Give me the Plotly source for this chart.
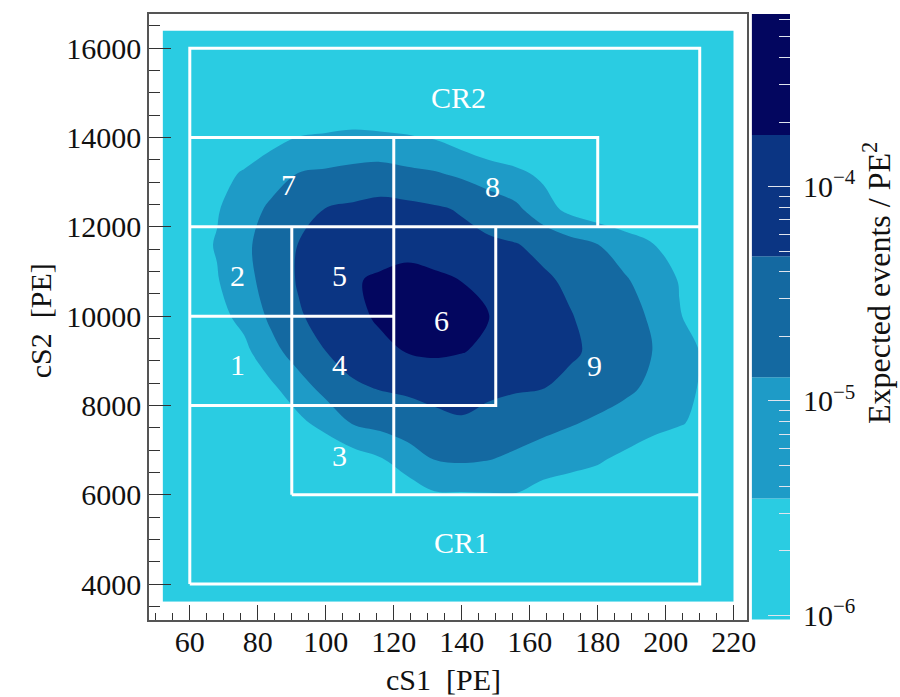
import plotly.graph_objects as go

# ---- signal model grid -------------------------------------------------
cs1_nodes = [52, 60, 68, 76, 84, 92, 100, 108, 116, 124, 132, 140, 148, 156,
             164, 172, 180, 188, 196, 204, 212, 220]
cs2_nodes = [3600, 4400, 5200, 6000, 6800, 7600, 8400, 9200, 10000, 10800,
             11600, 12400, 13200, 14000, 14800, 15600, 16400]

# log10(expected events / PE^2), one row per cS2 node, columns follow cs1_nodes
log_rate = [
    [-5.97] * 22,
    [-5.96, -5.96, -5.96, -5.96, -5.96, -5.96, -5.96, -5.96, -5.95, -5.94, -5.92,
     -5.91, -5.91, -5.92, -5.94, -5.95, -5.96, -5.96, -5.96, -5.96, -5.96, -5.96],
    [-5.96, -5.96, -5.96, -5.96, -5.96, -5.96, -5.96, -5.95, -5.92, -5.88, -5.79,
     -5.77, -5.75, -5.77, -5.82, -5.87, -5.90, -5.92, -5.95, -5.96, -5.96, -5.96],
    [-5.96, -5.96, -5.96, -5.96, -5.95, -5.94, -5.91, -5.88, -5.85, -5.77, -5.52,
     -5.51, -5.49, -5.48, -5.69, -5.77, -5.78, -5.85, -5.91, -5.95, -5.96, -5.96],
    [-5.96, -5.96, -5.96, -5.96, -5.96, -5.96, -5.95, -5.72, -5.50, -5.17, -4.87,
     -4.81, -4.87, -4.99, -5.13, -5.26, -5.39, -5.57, -5.80, -5.96, -5.96, -5.96],
    [-5.96, -5.96, -5.96, -5.96, -5.81, -5.59, -5.26, -4.86, -4.72, -4.58, -4.44,
     -4.37, -4.49, -4.61, -4.73, -4.85, -4.98, -5.12, -5.26, -5.41, -5.61, -5.83],
    [-5.96, -5.96, -5.96, -5.77, -5.55, -5.12, -4.71, -4.40, -4.29, -4.24, -4.19,
     -4.17, -4.22, -4.27, -4.31, -4.46, -4.62, -4.78, -4.99, -5.28, -5.55, -5.77],
    [-5.96, -5.96, -5.81, -5.59, -5.07, -4.64, -4.33, -4.11, -3.90, -3.74, -3.67,
     -3.74, -3.86, -3.99, -4.12, -4.25, -4.43, -4.65, -4.88, -5.23, -5.54, -5.77],
    [-5.96, -5.85, -5.62, -5.30, -4.77, -4.38, -4.13, -3.90, -3.68, -3.47, -3.31,
     -3.53, -3.75, -3.93, -4.12, -4.30, -4.50, -4.71, -4.95, -5.43, -5.67, -5.90],
    [-5.94, -5.71, -5.49, -5.07, -4.65, -4.28, -4.05, -3.82, -3.66, -3.52, -3.63,
     -3.77, -3.92, -4.08, -4.24, -4.42, -4.62, -4.83, -5.14, -5.48, -5.71, -5.94],
    [-5.89, -5.66, -5.42, -5.00, -4.63, -4.31, -4.23, -4.14, -4.05, -4.00, -4.08,
     -4.16, -4.23, -4.30, -4.47, -4.68, -4.88, -5.16, -5.43, -5.66, -5.89, -5.96],
    [-5.95, -5.72, -5.50, -5.13, -4.79, -4.54, -4.31, -4.23, -4.15, -4.18, -4.26,
     -4.37, -4.58, -4.78, -5.23, -5.61, -5.83, -5.96, -5.96, -5.96, -5.96, -5.96],
    [-5.96, -5.87, -5.64, -5.40, -5.12, -4.88, -4.81, -4.73, -4.66, -4.77, -4.85,
     -4.99, -5.17, -5.35, -5.56, -5.78, -5.96, -5.96, -5.96, -5.96, -5.96, -5.96],
    [-5.96, -5.96, -5.96, -5.86, -5.64, -5.44, -5.40, -5.35, -5.38, -5.42, -5.49,
     -5.71, -5.94, -5.96, -5.96, -5.96, -5.96, -5.96, -5.96, -5.96, -5.96, -5.96],
    [-5.96, -5.96, -5.95, -5.92, -5.88, -5.85, -5.82, -5.82, -5.82, -5.84, -5.86,
     -5.90, -5.93, -5.95, -5.96, -5.96, -5.96, -5.96, -5.96, -5.96, -5.96, -5.96],
    [-5.96, -5.96, -5.96, -5.95, -5.93, -5.92, -5.90, -5.90, -5.90, -5.91, -5.92,
     -5.93, -5.95, -5.96, -5.96, -5.96, -5.96, -5.96, -5.96, -5.96, -5.96, -5.96],
    [-5.97] * 22,
]

# contour band edges in log10 units and their fill colours
level_edges = [-6.02, -5.455, -4.89, -4.325, -3.76, -3.195]
band_colors = ["#2acce2", "#1e9bc7", "#1469a1", "#0b3583", "#03065f"]

# analysis region boundaries (cS1, cS2), polylines separated by None
region_x = [60, 210, 210, 60, 60, None,
            60, 180, 180, None,
            60, 210, None,
            120, 120, None,
            90, 90, None,
            60, 120, None,
            60, 150, 150, None,
            90, 210]
region_y = [4000, 4000, 16000, 16000, 4000, None,
            14000, 14000, 12000, None,
            12000, 12000, None,
            14000, 6000, None,
            12000, 6000, None,
            10000, 10000, None,
            8000, 8000, 12000, None,
            6000, 6000]

region_names = ["CR2", "7", "8", "2", "5", "6", "1", "4", "9", "3", "CR1"]
region_label_x = [139, 89, 149, 74, 104, 134, 74, 104, 179, 104, 140]
region_label_y = [14900, 12940, 12900, 10920, 10920, 9910, 8910, 8910, 8900, 6870, 4920]

cbar_major = [1e-6, 1e-5, 1e-4]
cbar_major_text = ["10<sup>\u22126</sup>", "10<sup>\u22125</sup>", "10<sup>\u22124</sup>"]
cbar_minor = [k * 1e-6 for k in range(2, 10)] + [k * 1e-5 for k in range(2, 10)] + \
             [k * 1e-4 for k in range(2, 7)]

SERIF = "Liberation Serif"
n_bands = len(band_colors)

# stepped colour scale so each filled band takes one flat colour
cscale = []
for i, c in enumerate(band_colors[:-1]):
    lo = i / (n_bands - 1)
    hi = (i + 1) / (n_bands - 1) if i < n_bands - 2 else 0.99
    cscale += [[lo, c], [hi, c]]
cscale.append([1.0, band_colors[-1]])

fig = go.Figure()

fig.add_trace(go.Contour(
    x=cs1_nodes, y=cs2_nodes, z=log_rate,
    zmin=level_edges[0], zmax=level_edges[-1],
    autocontour=False,
    contours=dict(start=level_edges[1], end=level_edges[-2],
                  size=level_edges[2] - level_edges[1],
                  coloring="fill", showlines=False),
    colorscale=cscale, showscale=False,
    line=dict(width=0), hoverinfo="skip",
))

fig.add_trace(go.Scatter(
    x=region_x, y=region_y, mode="lines",
    line=dict(color="white", width=3),
    hoverinfo="skip", showlegend=False,
))

# colour key drawn as stacked bands on a logarithmic axis
for lo, hi, col in zip(level_edges[:-1], level_edges[1:], band_colors):
    fig.add_trace(go.Bar(
        x=[0.5], base=[10 ** lo], y=[10 ** hi - 10 ** lo], width=[1.0],
        marker=dict(color=col, line=dict(width=0)),
        xaxis="x2", yaxis="y2", hoverinfo="skip", showlegend=False,
    ))

annotations = []
for name, lx, ly in zip(region_names, region_label_x, region_label_y):
    annotations.append(dict(x=lx, y=ly, xref="x", yref="y", text=name,
                            showarrow=False, xanchor="center", yanchor="middle",
                            font=dict(family=SERIF, size=30, color="white")))

annotations += [
    dict(x=0.4587, y=-0.098, xref="paper", yref="paper", text="cS1\u00a0 [PE]",
         showarrow=False, xanchor="center", yanchor="middle",
         font=dict(family=SERIF, size=30, color="#111")),
    dict(x=-0.17, y=0.493, xref="paper", yref="paper", text="cS2\u00a0 [PE]",
         showarrow=False, xanchor="center", yanchor="middle", textangle=-90,
         font=dict(family=SERIF, size=30, color="#111")),
    dict(x=1.1357, y=0.556, xref="paper", yref="paper",
         text="Expected events / PE<sup>2</sup>",
         showarrow=False, xanchor="center", yanchor="middle", textangle=-90,
         font=dict(family=SERIF, size=32, color="#111")),
]

axis_line = "#555555"
tick_col = "#333333"

fig.update_layout(
    width=900, height=697,
    margin=dict(l=149, r=110, t=14, b=77, pad=0),
    paper_bgcolor="white", plot_bgcolor="white",
    barmode="overlay", showlegend=False,
    annotations=annotations,
    xaxis=dict(domain=[0, 0.9334], range=[48, 224], tick0=0, dtick=20,
               ticks="inside", ticklen=15, tickwidth=1, tickcolor=tick_col,
               minor=dict(dtick=5, tick0=0, ticks="inside", ticklen=7,
                          tickcolor=tick_col, tickwidth=1, showgrid=False),
               showgrid=False, zeroline=False, showline=True, mirror=True,
               linecolor=axis_line, linewidth=1.5, automargin=False,
               ticklabelstandoff=-6,
               tickfont=dict(family=SERIF, size=30, color="#111")),
    yaxis=dict(domain=[0, 1], range=[3194, 16768], tick0=0, dtick=2000,
               tickformat="d",
               ticks="inside", ticklen=22, tickwidth=1, tickcolor=tick_col,
               minor=dict(dtick=500, tick0=0, ticks="inside", ticklen=11,
                          tickcolor=tick_col, tickwidth=1, showgrid=False),
               showgrid=False, zeroline=False, showline=True, mirror=True,
               linecolor=axis_line, linewidth=1.5, automargin=False,
               tickfont=dict(family=SERIF, size=30, color="#111")),
    xaxis2=dict(domain=[0.9402, 1.0], range=[0, 1], visible=False,
                anchor="y2", fixedrange=True),
    yaxis2=dict(domain=[0, 1], type="log", range=[-6.022, -3.195],
                anchor="x2", side="right", showgrid=False, zeroline=False,
                showline=False, ticks="inside", ticklen=22, tickwidth=1,
                tickcolor="#dfe4ee", tickmode="array", tickvals=cbar_major,
                ticktext=cbar_major_text, automargin=False,
                ticklabelstandoff=12,
                minor=dict(tickmode="array", tickvals=cbar_minor, ticks="inside",
                           ticklen=11, tickwidth=1, tickcolor="#dfe4ee",
                           showgrid=False),
                tickfont=dict(family=SERIF, size=30, color="#111")),
)

fig.write_html("out.html")
